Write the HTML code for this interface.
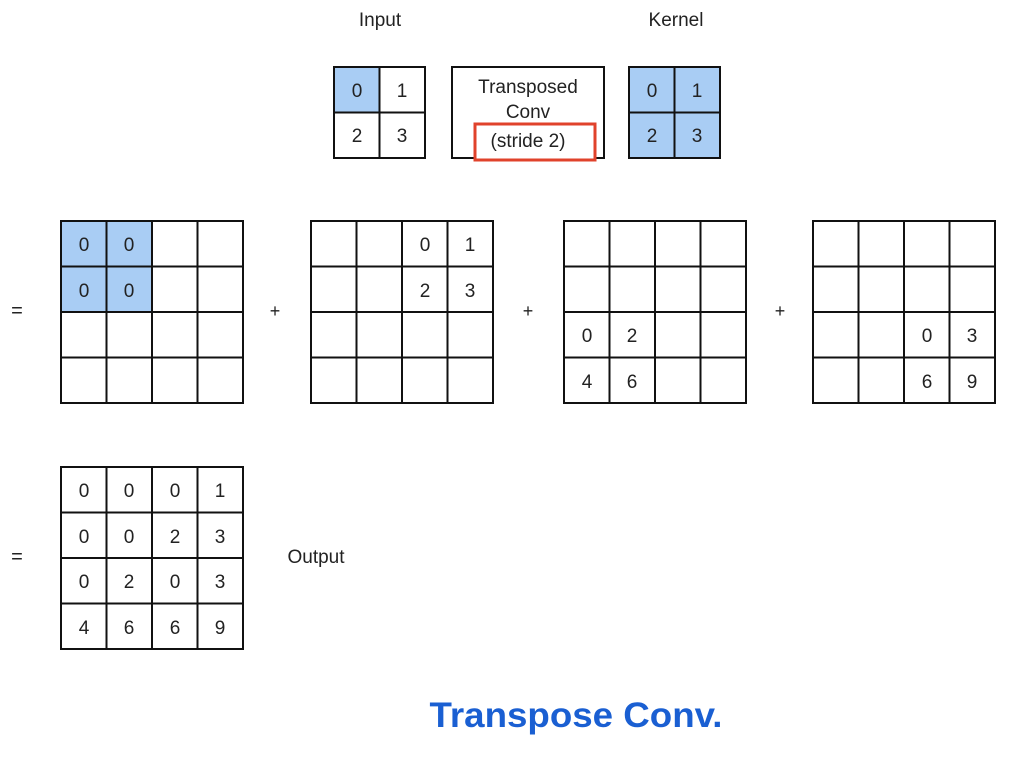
<!DOCTYPE html>
<html><head><meta charset="utf-8"><style>
html,body{margin:0;padding:0;background:#fff;}
svg{display:block}
text{font-family:"Liberation Sans",Arial,sans-serif;fill:#222;}
</style></head><body>
<svg width="1014" height="764" viewBox="0 0 1014 764" xmlns="http://www.w3.org/2000/svg">
<defs>
<g id="g4" fill="none" stroke="#111" stroke-width="2">
<rect x="0" y="0" width="182" height="182"/>
<path d="M45.5 0V182M91 0V182M136.5 0V182M0 45.5H182M0 91H182M0 136.5H182"/>
</g>
<g id="g2" fill="none" stroke="#111" stroke-width="2">
<rect x="0" y="0" width="91" height="91"/>
<path d="M45.5 0V91M0 45.5H91"/>
</g>
</defs>
<g font-size="19" text-anchor="middle">
<text x="380" y="26">Input</text>
<text x="676" y="26">Kernel</text>

<!-- input -->
<rect x="334" y="67" width="45.5" height="45.5" fill="#a9cdf4"/>
<use href="#g2" x="334" y="67"/>
<text x="357" y="97">0</text><text x="402" y="97">1</text>
<text x="357" y="142">2</text><text x="402" y="142">3</text>

<!-- transposed conv box -->
<rect x="452" y="67" width="152" height="91" fill="none" stroke="#111" stroke-width="2"/>
<text x="528" y="93">Transposed</text>
<text x="528" y="118">Conv</text>
<rect x="475" y="124" width="120" height="36" fill="#fff" stroke="#e0422b" stroke-width="3"/>
<text x="528" y="147">(stride 2)</text>

<!-- kernel -->
<rect x="629" y="67" width="91" height="91" fill="#a9cdf4"/>
<use href="#g2" x="629" y="67"/>
<text x="652" y="97">0</text><text x="697" y="97">1</text>
<text x="652" y="142">2</text><text x="697" y="142">3</text>

<text x="17" y="317" font-size="20">=</text>
<text x="275" y="317" font-size="18">+</text>
<text x="528" y="317" font-size="18">+</text>
<text x="780" y="317" font-size="18">+</text>

<!-- grid1 -->
<rect x="61" y="221" width="91" height="91" fill="#a9cdf4"/>
<use href="#g4" x="61" y="221"/>
<text x="84" y="251">0</text><text x="129" y="251">0</text>
<text x="84" y="297">0</text><text x="129" y="297">0</text>

<!-- grid2 -->
<use href="#g4" x="311" y="221"/>
<text x="425" y="251">0</text><text x="470" y="251">1</text>
<text x="425" y="297">2</text><text x="470" y="297">3</text>

<!-- grid3 -->
<use href="#g4" x="564" y="221"/>
<text x="587" y="342">0</text><text x="632" y="342">2</text>
<text x="587" y="388">4</text><text x="632" y="388">6</text>

<!-- grid4 -->
<use href="#g4" x="813" y="221"/>
<text x="927" y="342">0</text><text x="972" y="342">3</text>
<text x="927" y="388">6</text><text x="972" y="388">9</text>

<!-- output -->
<text x="17" y="563" font-size="20">=</text>
<use href="#g4" x="61" y="467"/>
<text x="84" y="497">0</text><text x="129" y="497">0</text><text x="175" y="497">0</text><text x="220" y="497">1</text>
<text x="84" y="543">0</text><text x="129" y="543">0</text><text x="175" y="543">2</text><text x="220" y="543">3</text>
<text x="84" y="588">0</text><text x="129" y="588">2</text><text x="175" y="588">0</text><text x="220" y="588">3</text>
<text x="84" y="634">4</text><text x="129" y="634">6</text><text x="175" y="634">6</text><text x="220" y="634">9</text>
<text x="316" y="563">Output</text>

<text x="576" y="727" font-size="35" font-weight="bold" style="fill:#1a5fd2" textLength="293" lengthAdjust="spacingAndGlyphs">Transpose Conv.</text>
</g>
</svg>
</body></html>
